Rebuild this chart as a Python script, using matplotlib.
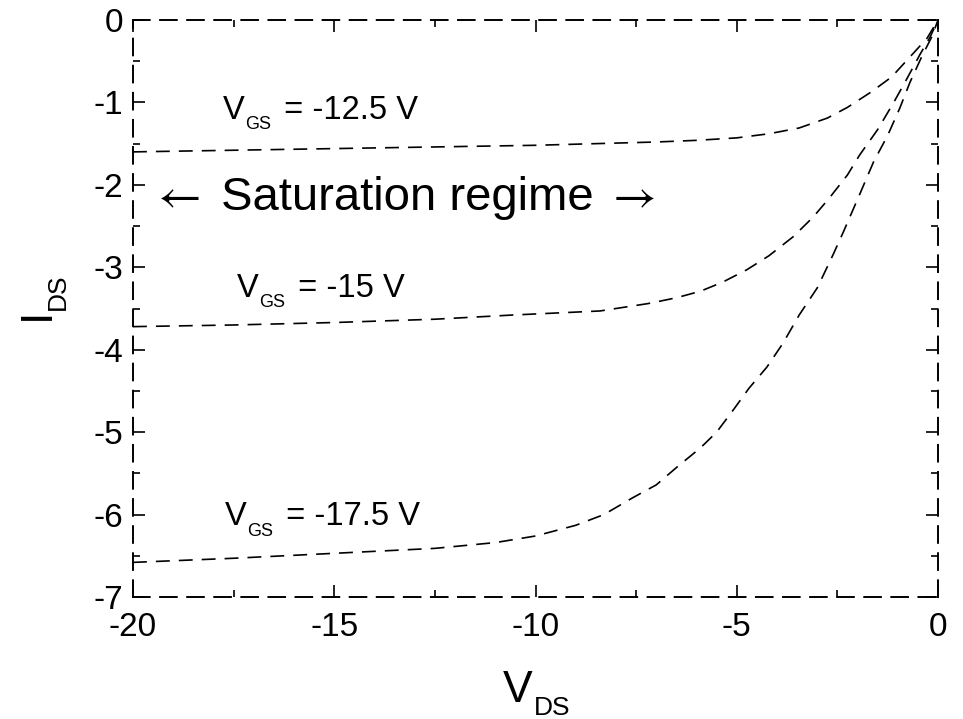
import numpy as np
import matplotlib
matplotlib.use("Agg")
from matplotlib import pyplot as plt
from matplotlib.ticker import MultipleLocator

plt.rcParams['font.family'] = ['Liberation Sans', 'DejaVu Sans']
plt.rcParams['axes.unicode_minus'] = False
plt.rcParams['lines.scale_dashes'] = False

# output characteristics
vds_125 = [-20, -17.5, -15, -12.5, -10, -8.5, -7, -6, -5, -4.2, -3.45, -2.75, -2.25, -1.65, -1.15, -0.7, -0.27, 0]
ids_125 = [-1.60, -1.58, -1.56, -1.54, -1.52, -1.50, -1.48, -1.46, -1.43, -1.38, -1.31, -1.19, -1.06, -0.87, -0.69, -0.45, -0.22, 0]

vds_15 = [-20, -17.5, -15, -12.5, -10.6, -8.4, -7.2, -6.5, -5.9, -5.35, -4.75, -4.2, -3.6, -3.1, -2.7, -2.25, -1.95, -1.5, -1.1, -0.77, -0.45, -0.2, 0]
ids_15 = [-3.72, -3.70, -3.67, -3.63, -3.58, -3.53, -3.44, -3.37, -3.29, -3.18, -3.03, -2.86, -2.63, -2.39, -2.16, -1.88, -1.64, -1.33, -1.00, -0.71, -0.42, -0.21, 0]

vds_175 = [-20, -17.5, -15, -12.5, -11, -10, -9, -8.3, -7.6, -7.0, -6.5, -5.9, -5.5, -5.1, -4.7, -4.25, -3.85, -3.45, -3.0, -2.6, -2.35, -1.95, -1.6, -1.25, -0.95, -0.7, -0.4, -0.15, 0]
ids_175 = [-6.58, -6.53, -6.47, -6.41, -6.34, -6.26, -6.13, -6.00, -5.80, -5.64, -5.43, -5.19, -5.00, -4.74, -4.47, -4.21, -3.92, -3.58, -3.25, -2.84, -2.57, -2.12, -1.72, -1.40, -1.07, -0.76, -0.44, -0.20, 0]

curves = [(vds_125, ids_125), (vds_15, ids_15), (vds_175, ids_175)]

# label text and anchor (V_DS, I_DS) of each V_GS label
gs_labels = ['-12.5 V', '-15 V', '-17.5 V']
gs_pos = [(-17.76, -1.20), (-17.42, -3.36), (-17.71, -6.13)]

W, H = 963, 719
fig = plt.figure(figsize=(W / 100, H / 100), dpi=100)
ax = fig.add_axes([133/W, 1 - 597/H, 805/W, 577/H])

for v, i in curves:
    ax.plot(v, i, color='black', lw=1.2, linestyle=(0, (10, 6.5)))

ax.set_xlim(-20, 0)
ax.set_ylim(-7, 0)
ax.xaxis.set_major_locator(MultipleLocator(5))
ax.xaxis.set_minor_locator(MultipleLocator(2.5))
ax.yaxis.set_major_locator(MultipleLocator(1))
ax.yaxis.set_minor_locator(MultipleLocator(0.5))
ax.tick_params(which='both', direction='in', top=True, right=True, width=1.2, labelsize=24)
ax.tick_params(which='major', length=8.5, pad=7)
ax.tick_params(axis='x', which='major', pad=10.5)
ax.tick_params(which='minor', length=5)

for s in ax.spines.values():
    s.set_linewidth(1.4)
    s.set_linestyle((0, (12, 7.5)))

# V_GS labels, subscript built by hand (smaller than mathtext would give)
for lab, (x, y) in zip(gs_labels, gs_pos):
    t1 = ax.text(x, y, 'V', fontsize=23.5, va='baseline', ha='left')
    t2 = ax.annotate('GS', xy=(1, 0), xycoords=t1, xytext=(0.5, -2.4),
                     textcoords='offset points', fontsize=13, va='baseline')
    ax.annotate(' = ' + lab, xy=(1, 0), xycoords=(t2, t1), xytext=(2.5, 0),
                textcoords='offset points', fontsize=23.5, va='bottom')

# saturation note: thin long arrows from STIX, words in the sans font
sat_y = -2.305
a1 = ax.text(-19.38, sat_y, '\u2190', fontsize=34, family='STIXGeneral',
             ha='left', va='baseline')
s1 = ax.annotate(' Saturation regime ', xy=(1, sat_y), xycoords=(a1, 'data'),
                 xytext=(4.5, 0), textcoords='offset points', fontsize=34,
                 va='baseline')
ax.annotate('\u2192', xy=(1, sat_y), xycoords=(s1, 'data'), xytext=(4, 0),
            textcoords='offset points', fontsize=34, family='STIXGeneral',
            va='baseline')

# axis titles: big letter plus smaller dropped subscript
fig.text(503/W, 1 - 702/H, 'V', fontsize=32, ha='left', va='baseline')
fig.text(534/W, 1 - 715/H, 'DS', fontsize=19, ha='left', va='baseline')
fig.text(49/W, 1 - 320/H, 'I', fontsize=32, ha='left', va='baseline',
         rotation=90, rotation_mode='anchor')
fig.text(65/W, 1 - 310/H, 'DS', fontsize=19, ha='left', va='baseline',
         rotation=90, rotation_mode='anchor')

plt.savefig('out.png', dpi=100)
